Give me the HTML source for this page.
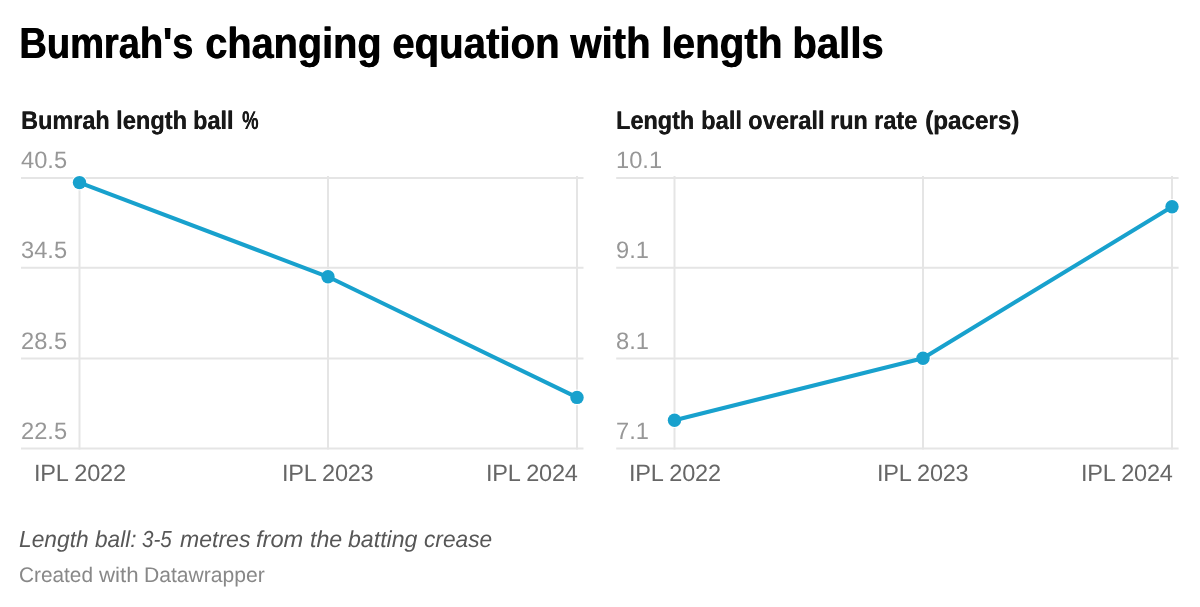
<!DOCTYPE html>
<html lang="en"><head><meta charset="utf-8"><title>Bumrah's changing equation with length balls</title>
<style>
html,body{margin:0;padding:0;background:#fff;}
body{width:1200px;height:607px;position:relative;overflow:hidden;font-family:"Liberation Sans",sans-serif;}
.t{position:absolute;white-space:nowrap;line-height:1;margin:0;padding:0;transform-origin:0 0;text-rendering:geometricPrecision;}
svg{position:absolute;left:0;top:0;}
#txt{position:absolute;left:0;top:0;width:1200px;height:607px;will-change:transform;}
</style></head>
<body>
<svg width="1200" height="607" viewBox="0 0 1200 607">
<g stroke="#e5e5e5" stroke-width="2" fill="none">
<path d="M21 178H583.5M21 267.8H583.5M21 358.4H583.5M21 448.6H583.5"/>
<path d="M79.5 176V449.5M328 176V449.5M577 176V449.5"/>
<path d="M616.2 178H1178.6M616.2 267.8H1178.6M616.2 358.4H1178.6M616.2 448.6H1178.6"/>
<path d="M674.5 176V449.5M923 176V449.5M1172 176V449.5"/>
</g>
<g fill="#fff">
<circle cx="79.5" cy="182.6" r="7.8"/><circle cx="328" cy="276.8" r="7.8"/><circle cx="577" cy="397.4" r="7.8"/>
<circle cx="674.5" cy="420.2" r="7.8"/><circle cx="923" cy="358.2" r="7.8"/><circle cx="1172" cy="206.8" r="7.8"/>
</g>
<g fill="none" stroke="#18a1cd" stroke-width="4" stroke-linejoin="round" stroke-linecap="round">
<path d="M79.5 182.6L328 276.8L577 397.4"/>
<path d="M674.5 420.2L923 358.2L1172 206.8"/>
</g>
<g fill="#18a1cd">
<circle cx="79.5" cy="182.6" r="6.7"/><circle cx="328" cy="276.8" r="6.7"/><circle cx="577" cy="397.4" r="6.7"/>
<circle cx="674.5" cy="420.2" r="6.7"/><circle cx="923" cy="358.2" r="6.7"/><circle cx="1172" cy="206.8" r="6.7"/>
</g>
</svg>

<div id="txt">
<div class="t" id="ti0" style="left:19.00px;top:23.00px;font-size:43.54px;color:#000;font-weight:bold;text-shadow:0.8px 0 0 #000;transform:scale(0.8746,1.0000);">Bumrah's</div>
<div class="t" id="ti1" style="left:205.00px;top:23.00px;font-size:43.54px;color:#000;font-weight:bold;text-shadow:0.8px 0 0 #000;transform:scale(0.9103,1.0000);">changing</div>
<div class="t" id="ti2" style="left:392.00px;top:23.00px;font-size:43.54px;color:#000;font-weight:bold;text-shadow:0.8px 0 0 #000;transform:scale(0.9222,1.0000);">equation</div>
<div class="t" id="ti3" style="left:570.00px;top:23.00px;font-size:43.54px;color:#000;font-weight:bold;text-shadow:0.8px 0 0 #000;transform:scale(0.9212,1.0000);">with</div>
<div class="t" id="ti4" style="left:661.00px;top:23.00px;font-size:43.54px;color:#000;font-weight:bold;text-shadow:0.8px 0 0 #000;transform:scale(0.9280,1.0000);">length</div>
<div class="t" id="ti5" style="left:792.00px;top:23.00px;font-size:43.54px;color:#000;font-weight:bold;text-shadow:0.8px 0 0 #000;transform:scale(0.9207,1.0000);">balls</div>
<div class="t" id="subL0" style="left:21.00px;top:109.00px;font-size:25.54px;color:#181818;font-weight:bold;text-shadow:0.4px 0 0 #181818;transform:scale(0.9180,1.0000);">Bumrah</div>
<div class="t" id="subL1" style="left:116.00px;top:109.00px;font-size:25.54px;color:#181818;font-weight:bold;text-shadow:0.4px 0 0 #181818;transform:scale(0.9253,1.0000);">length</div>
<div class="t" id="subL2" style="left:193.00px;top:109.00px;font-size:25.54px;color:#181818;font-weight:bold;text-shadow:0.4px 0 0 #181818;transform:scale(0.9159,1.0000);">ball</div>
<div class="t" id="subL3" style="left:242.00px;top:109.00px;font-size:25.54px;color:#181818;font-weight:bold;text-shadow:0.4px 0 0 #181818;transform:scale(0.7237,1.0000);">%</div>
<div class="t" id="subR0" style="left:616.00px;top:109.00px;font-size:25.54px;color:#181818;font-weight:bold;text-shadow:0.4px 0 0 #181818;transform:scale(0.9168,1.0000);">Length</div>
<div class="t" id="subR1" style="left:701.00px;top:109.00px;font-size:25.54px;color:#181818;font-weight:bold;text-shadow:0.4px 0 0 #181818;transform:scale(0.9275,1.0000);">ball</div>
<div class="t" id="subR2" style="left:748.00px;top:109.00px;font-size:25.54px;color:#181818;font-weight:bold;text-shadow:0.4px 0 0 #181818;transform:scale(0.9280,1.0000);">overall</div>
<div class="t" id="subR3" style="left:830.00px;top:109.00px;font-size:25.54px;color:#181818;font-weight:bold;text-shadow:0.4px 0 0 #181818;transform:scale(0.9122,1.0000);">run</div>
<div class="t" id="subR4" style="left:874.00px;top:109.00px;font-size:25.54px;color:#181818;font-weight:bold;text-shadow:0.4px 0 0 #181818;transform:scale(0.9206,1.0000);">rate</div>
<div class="t" id="subR5" style="left:925.00px;top:109.00px;font-size:25.54px;color:#181818;font-weight:bold;text-shadow:0.4px 0 0 #181818;transform:scale(0.9480,1.0000);">(pacers)</div>
<div class="t" id="yl0" style="left:21.00px;top:149.00px;font-size:23.79px;color:#979797;transform:scale(0.9950,1.0000);">40.5</div>
<div class="t" id="yl1" style="left:21.00px;top:239.00px;font-size:23.79px;color:#979797;transform:scale(0.9950,1.0000);">34.5</div>
<div class="t" id="yl2" style="left:21.00px;top:330.00px;font-size:23.79px;color:#979797;transform:scale(0.9950,1.0000);">28.5</div>
<div class="t" id="yl3" style="left:21.00px;top:420.00px;font-size:23.79px;color:#979797;transform:scale(0.9950,1.0000);">22.5</div>
<div class="t" id="yr0" style="left:616.00px;top:149.00px;font-size:23.79px;color:#979797;transform:scale(0.9950,1.0000);">10.1</div>
<div class="t" id="yr1" style="left:616.00px;top:239.00px;font-size:23.79px;color:#979797;transform:scale(0.9950,1.0000);">9.1</div>
<div class="t" id="yr2" style="left:616.00px;top:330.00px;font-size:23.79px;color:#979797;transform:scale(0.9950,1.0000);">8.1</div>
<div class="t" id="yr3" style="left:616.00px;top:420.00px;font-size:23.79px;color:#979797;transform:scale(0.9950,1.0000);">7.1</div>
<div class="t" id="xl0" style="left:34.00px;top:462.00px;font-size:23.51px;color:#666;letter-spacing:-0.167px;">IPL 2022</div>
<div class="t" id="xr0" style="left:629.00px;top:462.00px;font-size:23.51px;color:#666;letter-spacing:-0.167px;">IPL 2022</div>
<div class="t" id="xl1" style="left:282.00px;top:462.00px;font-size:23.51px;color:#666;letter-spacing:-0.219px;">IPL 2023</div>
<div class="t" id="xr1" style="left:877.00px;top:462.00px;font-size:23.51px;color:#666;letter-spacing:-0.219px;">IPL 2023</div>
<div class="t" id="xl2" style="left:486.00px;top:462.00px;font-size:23.51px;color:#666;letter-spacing:-0.198px;">IPL 2024</div>
<div class="t" id="xr2" style="left:1081.00px;top:462.00px;font-size:23.51px;color:#666;letter-spacing:-0.198px;">IPL 2024</div>
<div class="t" id="note0" style="left:19.00px;top:528.00px;font-size:23.14px;color:#575757;font-weight:normal;font-style:italic;transform:scale(0.9856,1.0000);">Length</div>
<div class="t" id="note1" style="left:95.00px;top:528.00px;font-size:23.14px;color:#575757;font-weight:normal;font-style:italic;transform:scale(0.9790,1.0000);">ball:</div>
<div class="t" id="note2" style="left:142.00px;top:528.00px;font-size:23.14px;color:#575757;font-weight:normal;font-style:italic;transform:scale(0.8914,1.0000);">3-5</div>
<div class="t" id="note3" style="left:180.00px;top:528.00px;font-size:23.14px;color:#575757;font-weight:normal;font-style:italic;transform:scale(0.9971,1.0000);">metres</div>
<div class="t" id="note4" style="left:256.00px;top:528.00px;font-size:23.14px;color:#575757;font-weight:normal;font-style:italic;transform:scale(1.0232,1.0000);">from</div>
<div class="t" id="note5" style="left:310.00px;top:528.00px;font-size:23.14px;color:#575757;font-weight:normal;font-style:italic;transform:scale(1.0046,1.0000);">the</div>
<div class="t" id="note6" style="left:348.00px;top:528.00px;font-size:23.14px;color:#575757;font-weight:normal;font-style:italic;transform:scale(1.0007,1.0000);">batting</div>
<div class="t" id="note7" style="left:424.00px;top:528.00px;font-size:23.14px;color:#575757;font-weight:normal;font-style:italic;transform:scale(0.9811,1.0000);">crease</div>
<div class="t" id="credit0" style="left:19.00px;top:565.00px;font-size:21.20px;color:#888;transform:scale(0.9811,1.0000);">Created</div>
<div class="t" id="credit1" style="left:99.00px;top:565.00px;font-size:21.20px;color:#888;transform:scale(1.0515,1.0000);">with</div>
<div class="t" id="credit2" style="left:144.00px;top:565.00px;font-size:21.20px;color:#888;transform:scale(0.9958,1.0000);">Datawrapper</div>
</div>
</body></html>
